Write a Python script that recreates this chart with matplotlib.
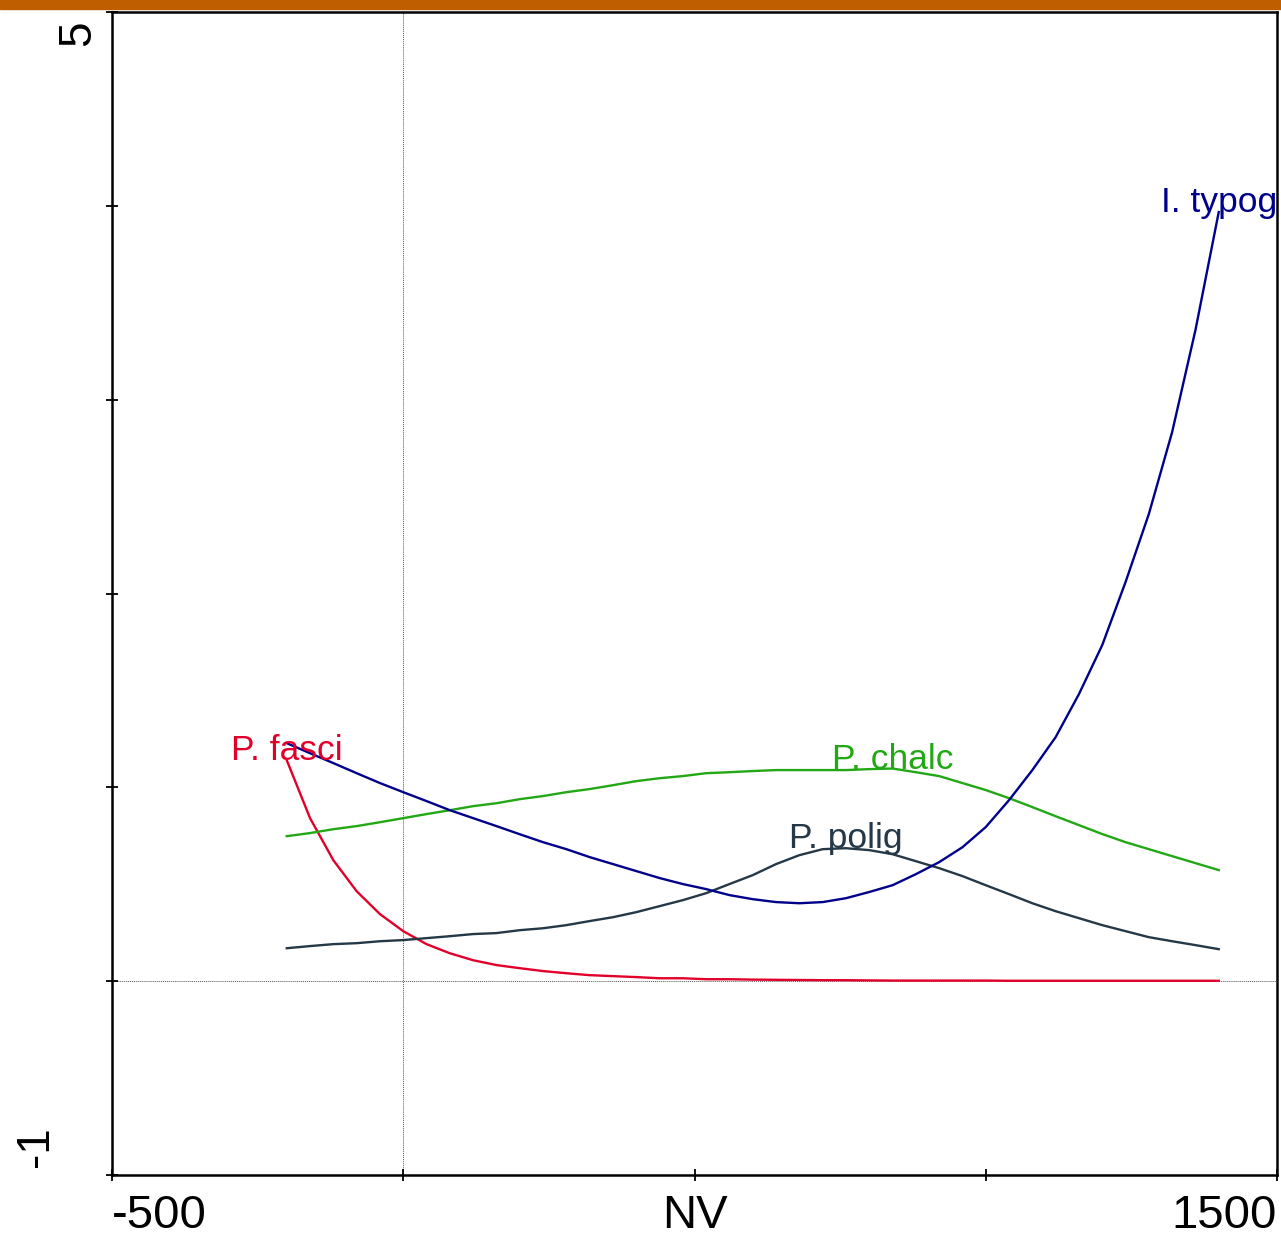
import numpy as np
import matplotlib
matplotlib.use("Agg")
import matplotlib.pyplot as plt
from matplotlib.patches import Rectangle

plt.rcParams['font.family'] = ['Liberation Sans', 'DejaVu Sans']

# ---- data ----
x_vals = list(range(-200, 1401, 40))

i_typog = [1.228, 1.176, 1.125, 1.073, 1.022, 0.975, 0.929, 0.882, 0.841, 0.800,
           0.758, 0.717, 0.681, 0.640, 0.604, 0.568, 0.532, 0.501, 0.475, 0.444,
           0.423, 0.408, 0.402, 0.408, 0.428, 0.460, 0.495, 0.552, 0.614, 0.691,
           0.795, 0.934, 1.089, 1.259, 1.481, 1.734, 2.059, 2.410, 2.833, 3.359, 3.968]

p_chalc = [0.748, 0.764, 0.784, 0.800, 0.820, 0.841, 0.862, 0.882, 0.903, 0.918,
           0.939, 0.955, 0.975, 0.991, 1.011, 1.032, 1.047, 1.058, 1.073, 1.078,
           1.084, 1.089, 1.089, 1.089, 1.089, 1.094, 1.097, 1.078, 1.058, 1.022,
           0.986, 0.944, 0.898, 0.851, 0.805, 0.759, 0.717, 0.681, 0.645, 0.609, 0.573]

p_polig = [0.170, 0.181, 0.191, 0.196, 0.206, 0.212, 0.222, 0.232, 0.243, 0.248,
           0.263, 0.273, 0.289, 0.310, 0.330, 0.356, 0.387, 0.418, 0.454, 0.501,
           0.547, 0.604, 0.650, 0.681, 0.686, 0.676, 0.655, 0.619, 0.583, 0.542,
           0.495, 0.449, 0.402, 0.361, 0.325, 0.289, 0.258, 0.227, 0.206, 0.186, 0.165]

p_fasci = [1.140, 0.841, 0.624, 0.464, 0.346, 0.258, 0.191, 0.144, 0.108, 0.083,
           0.067, 0.052, 0.041, 0.031, 0.026, 0.021, 0.015, 0.015, 0.010, 0.010,
           0.008, 0.007, 0.006, 0.005, 0.005, 0.004, 0.003, 0.003, 0.003, 0.003,
           0.003, 0.002, 0.002, 0.002, 0.002, 0.002, 0.002, 0.002, 0.002, 0.002, 0.002]

series_names = ["P. fasci", "P. chalc", "P. polig", "I. typog"]
series_values = [p_fasci, p_chalc, p_polig, i_typog]
series_colors = ["#E2002B", "#22A814", "#253847", "#00008B"]

x_ticks = [-500, 0, 500, 1000, 1500]
x_ticklabels = {-500: "-500", 500: "NV", 1500: "1500"}
y_ticks = [-1, 0, 1, 2, 3, 4, 5]

# ---- figure ----
W, H = 1281, 1239
fig = plt.figure(figsize=(W / 100, H / 100), dpi=100)
ax = fig.add_axes([112 / W, 1 - 1175 / H, (1277 - 112) / W, (1175 - 12) / H])

# orange title band (title itself is cut off in the reference)
fig.patches.append(Rectangle((0, 1 - 9 / H), 1, 9 / H, transform=fig.transFigure,
                             color="#BF5E00", zorder=0))

ax.set_xlim(-500, 1500)
ax.set_ylim(-1, 5)

ax.axvline(0, color="#555555", lw=0.7, ls=(0, (1, 1)), zorder=1)
ax.axhline(0, color="#555555", lw=0.7, ls=(0, (1, 1)), zorder=1)

for name, vals, col in zip(series_names, series_values, series_colors):
    ax.plot(x_vals, vals, color=col, lw=1.7, zorder=3)
    k = int(np.argmax(vals))
    ax.text(x_vals[k], vals[k], name, color=col, fontsize=25.5,
            ha="center", va="baseline", zorder=4)

for s in ax.spines.values():
    s.set_linewidth(1.8)
    s.set_color("black")

ax.set_xticks(x_ticks)
ax.set_yticks(y_ticks)
ax.tick_params(axis="both", direction="inout", length=9, width=1.3,
               labelbottom=False, labelleft=False)
ax.tick_params(axis="x", top=False)
ax.tick_params(axis="y", right=False)

# x tick labels
aligns = {-500: "left", 500: "center", 1500: "right"}
for xv, lab in x_ticklabels.items():
    ax.annotate(lab, xy=(xv, 0), xycoords=("data", "axes fraction"),
                xytext=(0, -14), textcoords="offset points",
                ha=aligns[xv], va="top", fontsize=34)

# y tick labels (rotated)
fig.text(90 / W, 1 - 20 / H, "5", rotation=90, rotation_mode="anchor",
         ha="right", va="baseline", fontsize=33)
fig.text(48 / W, 1 - 1167 / H, "-1", rotation=90, rotation_mode="anchor",
         ha="left", va="baseline", fontsize=33)

fig.savefig("out.png", dpi=100)
